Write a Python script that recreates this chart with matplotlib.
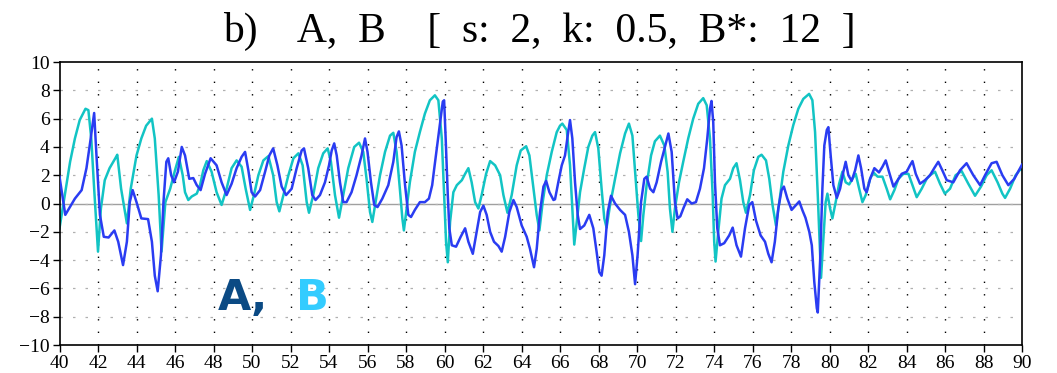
import numpy as np
import matplotlib
matplotlib.use("Agg")
import matplotlib.pyplot as plt

# series A (blue)
xa = [40.0, 40.3, 40.8, 41.15, 41.4, 41.6, 41.8, 41.92, 42.1, 42.3, 42.55, 42.85, 43.05, 43.3, 43.5,
      43.65, 43.8, 44.0, 44.25, 44.6, 44.8, 44.95, 45.1, 45.27, 45.4, 45.55, 45.65, 45.8, 45.95, 46.15,
      46.35, 46.52, 46.74, 46.95, 47.13, 47.33, 47.56, 47.85, 48.16, 48.42, 48.68, 48.94, 49.2, 49.46,
      49.64, 49.81, 49.98, 50.16, 50.42, 50.68, 50.9, 51.1, 51.32, 51.54, 51.77, 52.06, 52.32, 52.58,
      52.7, 52.92, 53.13, 53.3, 53.53, 53.79, 54.0, 54.14, 54.27, 54.4, 54.57, 54.74, 54.91, 55.17,
      55.43, 55.69, 55.87, 56.0, 56.18, 56.35, 56.52, 56.77, 57.08, 57.34, 57.51, 57.63, 57.77, 57.95,
      58.12, 58.26, 58.46, 58.72, 58.98, 59.19, 59.36, 59.45, 59.6, 59.77, 59.91, 59.98, 60.06, 60.17,
      60.25, 60.38, 60.6, 60.84, 61.07, 61.24, 61.47, 61.67, 61.85, 62.02, 62.19, 62.37, 62.57, 62.8,
      62.97, 63.15, 63.37, 63.58, 63.75, 64.01, 64.27, 64.44, 64.65, 64.79, 64.96, 65.14, 65.28, 65.45,
      65.66, 65.74, 65.91, 66.09, 66.26, 66.4, 66.52, 66.64, 66.78, 66.92, 67.04, 67.26, 67.52, 67.73,
      67.9, 68.04, 68.16, 68.3, 68.48, 68.65, 68.86, 69.12, 69.38, 69.58, 69.76, 69.9, 70.03, 70.21,
      70.38, 70.5, 70.68, 70.85, 71.02, 71.25, 71.45, 71.63, 71.8, 71.97, 72.11, 72.25, 72.42, 72.61,
      72.84, 73.06, 73.27, 73.48, 73.65, 73.79, 73.87, 73.96, 74.05, 74.17, 74.31, 74.53, 74.79, 74.97,
      75.17, 75.4, 75.61, 75.83, 75.99, 76.18, 76.42, 76.65, 76.82, 76.99, 77.16, 77.34, 77.51, 77.63,
      77.81, 78.03, 78.26, 78.43, 78.6, 78.75, 78.95, 79.08, 79.21, 79.34, 79.39, 79.51, 79.63, 79.73,
      79.86, 79.94, 80.06, 80.2, 80.38, 80.55, 80.72, 80.84, 80.98, 81.15, 81.33, 81.5, 81.64, 81.81,
      81.93, 82.11, 82.33, 82.57, 82.75, 82.92, 83.09, 83.32, 83.54, 83.75, 84.01, 84.18, 84.31, 84.48,
      84.7, 84.96, 85.22, 85.44, 85.65, 85.86, 86.09, 86.43, 86.78, 87.12, 87.47, 87.82, 88.08, 88.42,
      88.68, 88.98, 89.29, 89.6, 89.9, 90.0]
ya = [1.9, -0.8, 0.35, 0.95, 2.5, 4.4, 6.4, 3.4, -0.8, -2.35, -2.4, -1.9, -2.7, -4.35, -2.7,
      0.1, 0.95, 0.1, -1.05, -1.1, -2.7, -5.1, -6.2, -3.65, 0.1, 2.95, 3.2, 2.0, 1.5, 2.25,
      4.0, 3.4, 1.75, 1.8, 1.3, 0.95, 2.1, 3.2, 2.7, 1.5, 0.6, 1.4, 2.5, 3.3,
      3.65, 2.35, 0.8, 0.5, 0.95, 2.25, 3.4, 3.9, 2.7, 1.2, 0.6, 1.05, 2.5, 3.75,
      3.9, 2.5, 0.6, 0.25, 0.6, 1.5, 2.7, 3.75, 4.25, 3.4, 1.5, 0.1, 0.1, 0.8,
      2.0, 3.4, 4.6, 3.65, 1.5, -0.1, -0.25, 0.35, 1.3, 2.95, 4.7, 5.1, 4.1, 1.3,
      -0.8, -0.95, -0.45, 0.1, 0.1, 0.35, 1.3, 2.3, 3.9, 5.75, 7.2, 7.3, 4.6, 0.6,
      -1.75, -2.95, -3.05, -2.35, -1.75, -2.7, -3.55, -2.0, -0.6, -0.15, -0.8, -2.0, -2.7, -3.0,
      -3.4, -2.35, -0.6, 0.25, -0.25, -1.55, -2.35, -3.2, -4.5, -3.2, -0.6, 1.2, 1.6, 0.8,
      0.25, 0.3, 1.5, 2.7, 3.4, 4.8, 5.9, 4.6, 1.5, -0.8, -1.8, -1.55, -0.8, -1.75,
      -3.4, -4.85, -5.1, -3.65, -0.6, 0.55, 0.0, -0.45, -0.8, -2.0, -3.65, -5.7, -3.65, 0.1,
      1.75, 1.9, 1.05, 0.8, 1.5, 2.95, 4.0, 4.95, 3.65, 0.1, -1.05, -0.9, -0.3, 0.3,
      0.0, 0.1, 1.05, 2.5, 4.6, 6.7, 7.25, 5.75, 1.5, -1.75, -2.95, -2.8, -2.25, -1.7,
      -2.95, -3.75, -1.75, -0.1, 0.1, -1.2, -2.25, -2.7, -3.55, -4.15, -2.7, -0.35, 0.95, 1.2,
      0.35, -0.45, -0.1, 0.15, -0.5, -1.0, -2.0, -2.95, -5.55, -7.4, -7.7, -4.1, 1.05, 4.1,
      5.2, 5.4, 3.4, 1.3, 0.4, 1.05, 2.25, 2.95, 2.0, 1.6, 2.35, 3.4, 2.5, 1.05,
      0.8, 1.75, 2.5, 2.2, 2.6, 3.05, 2.25, 1.2, 1.65, 2.1, 2.25, 2.7, 3.0, 2.1,
      1.4, 1.65, 2.0, 2.5, 2.95, 2.35, 1.65, 1.5, 2.35, 2.85, 2.0, 1.3, 2.0, 2.85,
      2.95, 2.0, 1.3, 1.75, 2.5, 2.75]

# series B (cyan)
xb = [40.0, 40.3, 40.55, 40.8, 41.05, 41.35, 41.5, 41.65, 41.8, 42.0, 42.15, 42.35, 42.6, 42.9,
      43.0, 43.2, 43.5, 43.7, 44.0, 44.25, 44.5, 44.8, 44.95, 45.15, 45.3, 45.5, 45.75, 46.0, 46.2,
      46.4, 46.52, 46.69, 46.87, 47.13, 47.3, 47.47, 47.65, 47.9, 48.16, 48.42, 48.68, 48.94, 49.2,
      49.46, 49.67, 49.9, 50.1, 50.33, 50.59, 50.85, 51.1, 51.28, 51.42, 51.63, 51.89, 52.15, 52.41,
      52.63, 52.84, 52.96, 53.18, 53.44, 53.7, 53.93, 54.1, 54.31, 54.52, 54.74, 55.0, 55.31, 55.56,
      55.78, 55.95, 56.13, 56.25, 56.42, 56.65, 56.91, 57.17, 57.34, 57.51, 57.68, 57.81, 57.89, 58.03,
      58.2, 58.46, 58.72, 58.98, 59.24, 59.5, 59.68, 59.86, 59.98, 60.08, 60.17, 60.29, 60.46, 60.64,
      60.9, 61.07, 61.24, 61.41, 61.59, 61.76, 61.93, 62.16, 62.37, 62.63, 62.89, 63.06, 63.27, 63.49,
      63.75, 63.96, 64.24, 64.41, 64.62, 64.79, 64.93, 65.1, 65.31, 65.57, 65.83, 66.0, 66.12, 66.35,
      66.52, 66.64, 66.74, 66.87, 67.04, 67.26, 67.47, 67.68, 67.82, 67.99, 68.16, 68.3, 68.42, 68.6,
      68.86, 69.12, 69.38, 69.58, 69.76, 69.9, 70.07, 70.21, 70.33, 70.5, 70.73, 70.93, 71.19, 71.42,
      71.59, 71.71, 71.84, 71.97, 72.18, 72.4, 72.66, 72.92, 73.18, 73.44, 73.62, 73.79, 73.93, 74.01,
      74.08, 74.22, 74.39, 74.57, 74.83, 75.0, 75.17, 75.35, 75.52, 75.66, 75.87, 76.07, 76.3, 76.47,
      76.7, 76.87, 77.04, 77.22, 77.39, 77.6, 77.86, 78.12, 78.38, 78.64, 78.94, 79.11, 79.25, 79.39,
      79.51, 79.56, 79.68, 79.8, 79.89, 80.03, 80.15, 80.32, 80.5, 80.67, 80.84, 81.02, 81.19, 81.36,
      81.54, 81.71, 81.88, 82.11, 82.28, 82.5, 82.75, 82.97, 83.15, 83.37, 83.58, 83.84, 84.1, 84.31,
      84.53, 84.79, 85.05, 85.22, 85.48, 85.74, 85.99, 86.26, 86.55, 86.86, 87.21, 87.56, 87.87, 88.16,
      88.42, 88.73, 88.98, 89.12, 89.38, 89.67, 89.9, 90.0]
yb = [-1.75, 0.8, 2.95, 4.6, 5.9, 6.7, 6.6, 4.6, 1.05, -3.4, -0.35, 1.65, 2.5, 3.2,
      3.45, 1.05, -1.4, 1.05, 3.4, 4.6, 5.5, 6.0, 4.6, 0.6, -3.4, 0.1, 1.05, 2.35, 3.3,
      2.0, 0.8, 0.25, 0.5, 0.7, 1.3, 2.35, 3.0, 2.25, 0.8, -0.1, 1.05, 2.5, 3.05,
      2.6, 1.05, -0.45, 0.6, 2.0, 3.05, 3.35, 2.0, 0.1, -0.55, 0.6, 2.0, 3.2, 3.55,
      2.7, 0.1, -0.65, 0.6, 2.5, 3.55, 3.9, 2.95, 0.6, -1.0, 0.6, 2.5, 4.0, 4.3,
      3.65, 1.75, -0.6, -1.3, 0.1, 2.0, 3.65, 4.8, 5.0, 3.65, 1.05, -1.05, -1.9, -0.35,
      1.5, 3.65, 5.05, 6.35, 7.3, 7.65, 7.3, 4.6, 0.6, -2.7, -4.15, -1.3, 0.8, 1.3,
      1.65, 2.1, 2.5, 1.5, 0.1, -0.35, 0.6, 2.1, 3.0, 2.7, 2.0, 0.6, -0.65, 0.6,
      2.7, 3.75, 4.05, 3.4, 1.05, -0.8, -1.9, 0.1, 2.0, 3.65, 5.05, 5.5, 5.65, 5.2,
      2.7, -0.35, -2.9, -1.3, 0.8, 2.5, 4.0, 4.8, 5.05, 3.9, 1.05, -1.05, -1.7, -0.1,
      1.75, 3.55, 4.95, 5.65, 4.8, 2.25, -0.8, -2.65, -0.8, 1.3, 3.4, 4.4, 4.8, 4.1,
      2.25, -0.35, -2.0, -0.35, 1.5, 2.95, 4.6, 6.0, 7.05, 7.45, 6.95, 4.6, 0.6, -2.7,
      -4.1, -2.0, 0.35, 1.3, 1.75, 2.5, 2.85, 1.65, 0.1, -0.65, 0.6, 2.35, 3.3, 3.45,
      3.05, 1.75, -0.1, -1.55, 0.1, 2.25, 4.1, 5.55, 6.7, 7.4, 7.75, 7.3, 5.05, 0.6,
      -3.65, -5.25, -2.5, 0.1, 0.7, -0.35, -1.05, 0.1, 1.4, 2.25, 1.5, 1.35, 1.75, 2.1,
      1.05, 0.1, 0.6, 1.75, 2.2, 1.9, 1.9, 1.05, 0.3, 0.95, 1.75, 2.1, 2.1, 1.3,
      0.45, 1.05, 1.75, 2.0, 2.25, 1.4, 0.7, 1.05, 2.0, 2.3, 1.4, 0.55, 1.2, 2.0,
      2.35, 1.5, 0.7, 0.4, 1.05, 2.0, 2.4, 2.4]

xticks = np.arange(40, 91, 2)
yticks = np.arange(-10, 11, 2)

fig = plt.figure(figsize=(10.57, 3.73), dpi=100)
ax = fig.add_axes([0.0563, 0.075, 0.9106, 0.7586])

ax.axhline(0, color="#a0a0a0", lw=1.0, zorder=1)
for xv in xticks[1:-1]:
    ax.axvline(xv, color="black", lw=1.0, ls=(0, (1, 8)), zorder=1)
for yv in yticks[1:-1]:
    ax.axhline(yv, color="#b0b0b0", lw=0.9, ls=(0, (2, 8)), zorder=1)

ax.plot(xa, ya, color="#2a3cf2", lw=1.8, zorder=3)
ax.plot(xb, yb, color="#12c4c4", lw=1.8, zorder=2)

ax.text(48.2, -7.5, "A,", color="#0b4a84", fontsize=31, fontweight="bold")
ax.text(52.3, -7.5, "B", color="#33ccff", fontsize=31, fontweight="bold")

ax.set_xlim(40, 90)
ax.set_ylim(-10, 10)
ax.set_xticks(xticks)
ax.set_yticks(yticks)
ax.tick_params(direction="out", length=5, width=1, labelsize=14, pad=2)
for lab in ax.get_xticklabels() + ax.get_yticklabels():
    lab.set_family("Liberation Serif")
for sp in ax.spines.values():
    sp.set_linewidth(1.2)

fig.text(0.51, 0.915, "b)    A,  B    [  s:  2,  k:  0.5,  B*:  12  ]",
         ha="center", va="center", fontsize=30, family="Liberation Serif")

fig.savefig("out.png", dpi=100)
